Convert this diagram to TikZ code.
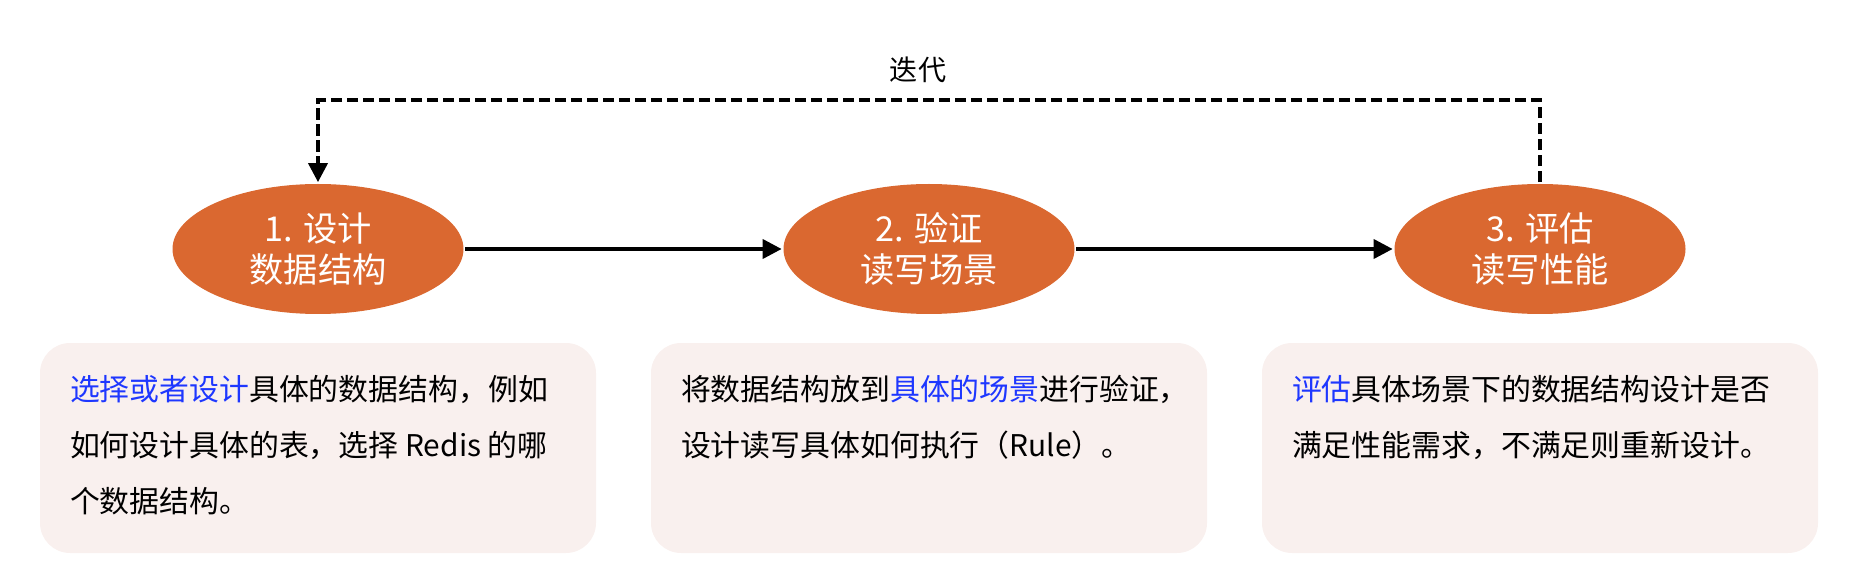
\documentclass[tikz,border=0pt]{standalone}
\usepackage[dvipsnames]{xcolor}
\usepackage{fontspec}
\setmainfont{Noto Sans CJK SC}
\usetikzlibrary{shapes,calc,positioning,arrows.meta}

\definecolor{stepOrange}{RGB}{218,104,48}
\definecolor{boxPink}{RGB}{249,240,238}
\definecolor{keyBlue}{RGB}{30,55,255}

\begin{document}
\begin{tikzpicture}[->,>={Triangle[length=0.38cm,width=0.38cm]},line width=2.1pt,node distance=12.22cm,
    main node/.style={ellipse,fill=stepOrange,draw=none,minimum width=5.82cm,minimum height=2.6cm,inner sep=0pt,align=center,text=white,font=\fontsize{19.5}{23.2}\selectfont},
    desc box/.style={rounded corners=0.6cm,fill=boxPink,draw=none,minimum width=11.12cm,minimum height=4.2cm},
    desc text/.style={anchor=north west,inner sep=0pt,align=left,font=\fontsize{17}{32}\selectfont},
    iter line/.style={dash pattern=on 0.23cm off 0.09cm}]

            \useasboundingbox (0,0) rectangle (37,-11.58);

            \node[main node] (1) at (6.36,-4.98) {1. 设计\\数据结构};
            \node[main node] (2) [right of = 1] {2. 验证\\读写场景};
            \node[main node] (3) [right of = 2] {3. 评估\\读写性能};

            \foreach \curr [
                evaluate = \curr as \next using {int(\curr+1)},
            ] in {1,2}{
                \path (\curr) edge (\next);
            }

            \foreach \curr in {1,2,3}{
                \node[desc box,node distance=3.98cm,below of = \curr] (b\curr) {};
            }

            \node[desc text] (t1) [below right=0.64cm and 0.6cm of b1.north west]
                {\textcolor{keyBlue}{选择或者设计}具体的数据结构，例如\\如何设计具体的表，选择 Redis 的哪\\个数据结构。};
            \node[desc text] (t2) [below right=0.64cm and 0.6cm of b2.north west]
                {将数据结构放到\textcolor{keyBlue}{具体的场景}进行验证，\\设计读写具体如何执行（Rule）。};
            \node[desc text] (t3) [below right=0.64cm and 0.6cm of b3.north west]
                {\textcolor{keyBlue}{评估}具体场景下的数据结构设计是否\\满足性能需求，不满足则重新设计。};

            \coordinate (top3) at ($(3.north)+(0,1.64)$);
            \coordinate (top1) at ($(1.north)+(0,1.64)$);
            \draw[iter line] (3.north) -- (top3)
                -- node[anchor=base,yshift=0.39cm,xshift=-0.22cm,font=\fontsize{16}{19}\selectfont] (iter) {迭代} (top1)
                -- (1.north);

        \end{tikzpicture}
\end{document}
